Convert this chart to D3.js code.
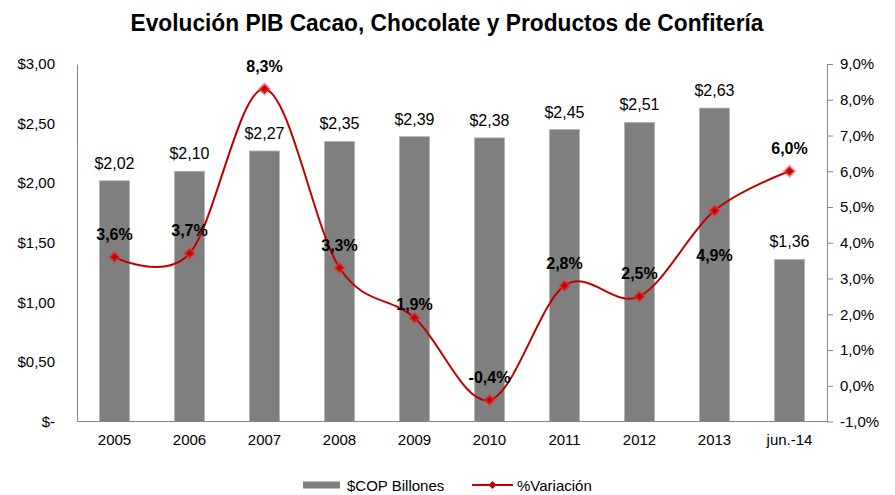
<!DOCTYPE html>
<html>
<head>
<meta charset="utf-8">
<script src="https://cdn.jsdelivr.net/npm/d3@7"></script>
<style>
  body { margin: 0; background: #fff; }
  text { font-family: "Liberation Sans", Arial, sans-serif; fill: #000; }
</style>
</head>
<body>
<div class="chart"></div>
<script>
// Data.
let categories = ['2005', '2006', '2007', '2008', '2009', '2010', '2011', '2012', '2013', 'jun.-14'];
let copBillones = [2.02, 2.10, 2.27, 2.35, 2.39, 2.38, 2.45, 2.51, 2.63, 1.36];
let variacion = [3.6, 3.7, 8.3, 3.3, 1.9, -0.4, 2.8, 2.5, 4.9, 6.0];
let leftTicks = [0, 0.5, 1, 1.5, 2, 2.5, 3];
let rightTicks = [-1, 0, 1, 2, 3, 4, 5, 6, 7, 8, 9];

// Build constants.
let width = 895,
    height = 495,
    plot = {left: 77, right: 827, top: 64, bottom: 421.5},
    barColor = '#7f7f7f',
    lineColor = '#c00000',
    axisColor = '#868686';

let fmtMoney = d => d === 0 ? '$-' : '$' + d.toFixed(2).replace('.', ',');
let fmtPct = d => d.toFixed(1).replace('.', ',') + '%';

// Build SVG.
let svg = d3.select('.chart')
    .append('svg')
        .attr('width', width)
        .attr('height', height);

// Scales.
let x = d3.scaleBand()
    .domain(categories)
    .range([plot.left, plot.right])
    .paddingInner(0.6)
    .paddingOuter(0.3);

let yLeft = d3.scaleLinear().domain([0, 3]).range([plot.bottom, plot.top]);
let yRight = d3.scaleLinear().domain([-1, 9]).range([plot.bottom, plot.top]);

// Title.
svg.append('text')
    .attr('x', 447)
    .attr('y', 31)
    .attr('text-anchor', 'middle')
    .attr('font-family', '"Liberation Sans Narrow", "Arial Narrow", "Liberation Sans", sans-serif')
    .attr('font-weight', 'bold')
    .attr('font-size', 23)
    .attr('textLength', 633)
    .attr('lengthAdjust', 'spacingAndGlyphs')
    .text('Evolución PIB Cacao, Chocolate y Productos de Confitería');

// Left axis.
let leftAxis = svg.append('g')
    .attr('transform', `translate(${plot.left},0)`)
    .call(d3.axisLeft(yLeft).tickValues(leftTicks).tickFormat(fmtMoney).tickSize(0).tickPadding(22));
leftAxis.select('.domain').attr('stroke', axisColor);
leftAxis.selectAll('text').attr('font-size', 15).attr('font-family', '"Liberation Sans", Arial, sans-serif');

// Right axis.
let rightAxis = svg.append('g')
    .attr('transform', `translate(${plot.right},0)`)
    .call(d3.axisRight(yRight).tickValues(rightTicks).tickFormat(fmtPct).tickSizeOuter(0).tickSizeInner(6).tickPadding(7));
rightAxis.select('.domain').attr('stroke', axisColor);
rightAxis.selectAll('line').attr('stroke', axisColor);
rightAxis.selectAll('text').attr('font-size', 15).attr('font-family', '"Liberation Sans", Arial, sans-serif');

// Bars.
svg.selectAll('rect.bar')
    .data(copBillones)
    .join('rect')
        .attr('class', 'bar')
        .attr('x', (d, i) => x(categories[i]))
        .attr('y', d => yLeft(d))
        .attr('width', x.bandwidth())
        .attr('height', d => yLeft(0) - yLeft(d))
        .attr('fill', barColor)
        .attr('stroke', '#b3b3b3')
        .attr('stroke-width', 0.8);

// Bottom axis.
let bottomAxis = svg.append('g')
    .attr('transform', `translate(0,${plot.bottom})`)
    .call(d3.axisBottom(x).tickSize(0).tickPadding(13));
bottomAxis.select('.domain').attr('stroke', axisColor).attr('d', `M${plot.left},0H${plot.right}`);
bottomAxis.selectAll('text').attr('font-size', 15).attr('font-family', '"Liberation Sans", Arial, sans-serif');

// Bar labels.
svg.selectAll('text.barlabel')
    .data(copBillones)
    .join('text')
        .attr('class', 'barlabel')
        .attr('x', (d, i) => x(categories[i]) + x.bandwidth() / 2)
        .attr('y', d => yLeft(d) - 12)
        .attr('text-anchor', 'middle')
        .attr('font-size', 16)
        .text(fmtMoney);

// Line.
let line = d3.line()
    .x((d, i) => x(categories[i]) + x.bandwidth() / 2)
    .y(d => yRight(d))
    .curve(d3.curveCatmullRom.alpha(0));

svg.append('path')
    .datum(variacion)
    .attr('d', line)
    .attr('fill', 'none')
    .attr('stroke', lineColor)
    .attr('stroke-width', 2);

// Markers.
let diamond = d3.symbol().type(d3.symbolDiamond2).size(60);
svg.selectAll('path.marker')
    .data(variacion)
    .join('path')
        .attr('class', 'marker')
        .attr('d', diamond)
        .attr('transform', (d, i) => `translate(${x(categories[i]) + x.bandwidth() / 2},${yRight(d)})`)
        .attr('fill', lineColor)
        .attr('stroke', 'rgba(230, 60, 60, 0.45)')
        .attr('stroke-width', 3);

// Percent labels (2013 sits under its marker, 2009 hugs it).
let belowIdx = [8];
let tightIdx = [4];
svg.selectAll('text.pctlabel')
    .data(variacion)
    .join('text')
        .attr('class', 'pctlabel')
        .attr('x', (d, i) => x(categories[i]) + x.bandwidth() / 2)
        .attr('y', (d, i) => belowIdx.includes(i) ? yRight(d) + 50
            : tightIdx.includes(i) ? yRight(d) - 8 : yRight(d) - 17)
        .attr('text-anchor', 'middle')
        .attr('font-size', 16)
        .attr('font-weight', 'bold')
        .text(fmtPct);

// Legend.
let legend = svg.append('g').attr('transform', 'translate(0,485)');
legend.append('rect')
    .attr('x', 303).attr('y', -3.5)
    .attr('width', 37).attr('height', 7)
    .attr('fill', barColor);
legend.append('text')
    .attr('x', 347).attr('y', 5.5)
    .attr('font-size', 15)
    .text('$COP Billones');
legend.append('line')
    .attr('x1', 472).attr('x2', 513)
    .attr('y1', 0).attr('y2', 0)
    .attr('stroke', lineColor)
    .attr('stroke-width', 2);
legend.append('path')
    .attr('d', d3.symbol().type(d3.symbolDiamond2).size(40))
    .attr('transform', 'translate(492.5,0)')
    .attr('fill', lineColor);
legend.append('text')
    .attr('x', 517).attr('y', 5.5)
    .attr('font-size', 15)
    .text('%Variación');
</script>
</body>
</html>
